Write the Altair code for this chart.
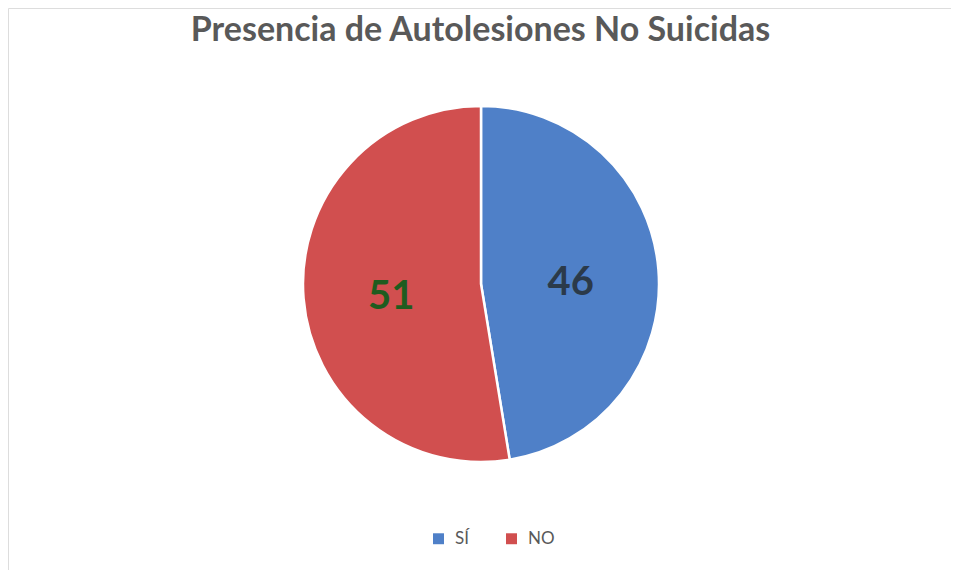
import altair as alt
import pandas as pd

categories = ["SÍ", "NO"]
values = [46, 51]
slice_colors = ["#4F80C8", "#D14F4F"]
label_colors = ["#2B3A4A", "#1F5C1F"]
order_idx = [0, 1]

df = pd.DataFrame({"cat": categories, "value": values, "idx": order_idx, "lc": label_colors})

W, H = 943, 562
CX, CY = 473, 276
R = 178

base = alt.Chart(df).encode(
    theta=alt.Theta("value:Q", stack=True),
    order=alt.Order("idx:Q"),
)

pie = base.mark_arc(outerRadius=R, stroke="white", strokeWidth=2.5).encode(
    x=alt.value(CX), y=alt.value(CY),
    color=alt.Color("cat:N", scale=alt.Scale(domain=categories, range=slice_colors),
                    sort=categories,
                    legend=alt.Legend(title=None, orient="none", direction="horizontal",
                                      legendX=422, legendY=522, symbolType="square",
                                      symbolSize=120, labelFontSize=17, labelColor="#595959",
                                      labelFont="Lato", columnPadding=34, symbolStrokeWidth=0,
                                      labelOffset=8)),
)

labels = base.mark_text(radius=90, fontSize=40, fontWeight="bold", font="Lato",
                        baseline="middle", align="center", dy=6).encode(
    x=alt.value(CX), y=alt.value(CY),
    text=alt.Text("value:Q"),
    color=alt.Color("lc:N", scale=None),
)

title = alt.Chart(pd.DataFrame({"t": ["Presencia de Autolesiones No Suicidas"]})).mark_text(
    fontSize=34, fontWeight="bold", font="Lato", color="#595959", baseline="alphabetic", align="center"
).encode(x=alt.value(W / 2 + 1), y=alt.value(33), text="t:N")

chart = alt.layer(pie, labels, title).properties(
    width=W, height=H, autosize=alt.AutoSizeParams(type="none"), padding=0
).configure_view(stroke="#EDEDED").configure(background="white")

chart.save("out.html", embed_options={"renderer": "svg", "actions": False})
